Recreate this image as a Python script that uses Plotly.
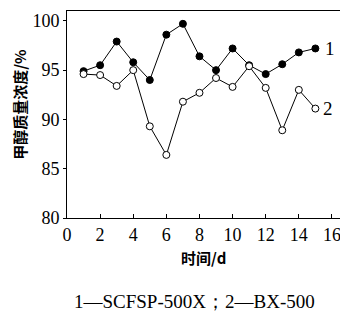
import plotly.graph_objects as go

days = list(range(1, 16))
series1 = [94.9, 95.5, 97.9, 95.8, 94.0, 98.6, 99.7, 96.4, 95.0, 97.2, 95.5, 94.6, 95.6, 96.8, 97.2]
series2 = [94.6, 94.5, 93.4, 95.0, 89.3, 86.4, 91.8, 92.7, 94.2, 93.3, 95.4, 93.2, 88.9, 93.0, 91.1]
x_ticks = [0, 2, 4, 6, 8, 10, 12, 14, 16]
y_ticks = [80, 85, 90, 95, 100]
series_labels = ["1", "2"]

serif = "Liberation Serif"
cjk = "Noto Sans CJK SC"

# page body has an 8px margin, so the figure is sized to fill the remaining window
W, H = 340, 305
L, R, T, B = 59, 0, 3, 95

fig = go.Figure()
fig.add_trace(go.Scatter(
    x=days, y=series1, mode="lines+markers",
    line=dict(color="black", width=1),
    marker=dict(symbol="circle", size=7, color="black", line=dict(color="black", width=1)),
    showlegend=False, cliponaxis=False,
))
fig.add_trace(go.Scatter(
    x=days, y=series2, mode="lines+markers",
    line=dict(color="black", width=1),
    marker=dict(symbol="circle", size=7, color="white", line=dict(color="black", width=1)),
    showlegend=False, cliponaxis=False,
))

fig.add_annotation(x=days[-1], y=series1[-1], text=series_labels[0], showarrow=False,
                   xanchor="left", yanchor="middle", xshift=8,
                   font=dict(family=serif, size=19, color="black"))
fig.add_annotation(x=days[-1], y=series2[-1], text=series_labels[1], showarrow=False,
                   xanchor="left", yanchor="middle", xshift=6,
                   font=dict(family=serif, size=19, color="black"))

fig.add_annotation(xref="paper", yref="paper", x=-0.168, y=0.546,
                   text="<b>甲醇质量浓度/%</b>", showarrow=False, textangle=-90,
                   xanchor="center", yanchor="middle",
                   font=dict(family=cjk, size=15, color="black"))
fig.add_annotation(xref="paper", yref="paper", x=0.486, y=-0.19,
                   text="<b>时间/d</b>", showarrow=False,
                   xanchor="center", yanchor="middle",
                   font=dict(family=cjk, size=15, color="black"))
fig.add_annotation(xref="paper", yref="paper", x=0.452, y=-0.405,
                   text="1—SCFSP-500X；2—BX-500", showarrow=False,
                   xanchor="center", yanchor="middle",
                   font=dict(family=serif, size=19, color="black"))

fig.update_layout(
    width=W, height=H,
    margin=dict(l=L, r=R, t=T, b=B),
    paper_bgcolor="white", plot_bgcolor="white",
    xaxis=dict(
        range=[0, 16.97], tickvals=x_ticks, ticktext=[str(v) for v in x_ticks],
        showgrid=False, zeroline=False, showline=True, linecolor="black", linewidth=1,
        mirror=True, ticks="inside", ticklen=4, tickcolor="black",
        tickfont=dict(family=serif, size=18, color="black"),
    ),
    yaxis=dict(
        range=[80, 101.0], tickvals=y_ticks, ticktext=[str(v) for v in y_ticks],
        showgrid=False, zeroline=False, showline=True, linecolor="black", linewidth=1,
        ticks="outside", ticklen=3, tickcolor="black",
        tickfont=dict(family=serif, size=18, color="black"),
    ),
)

fig.write_html("out.html")
